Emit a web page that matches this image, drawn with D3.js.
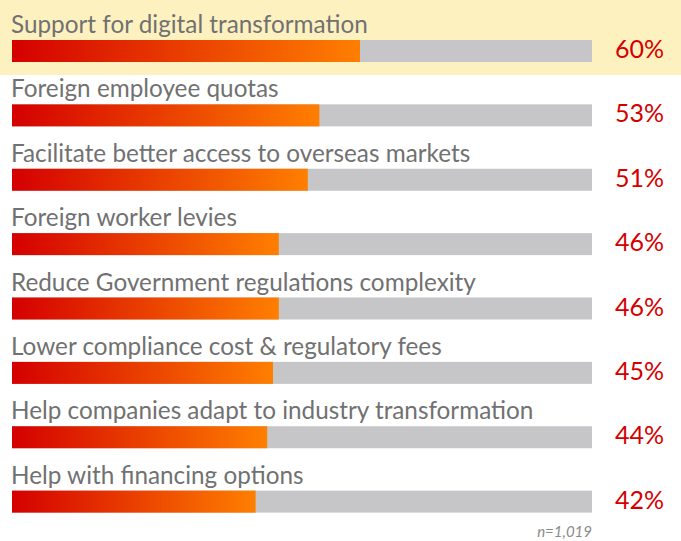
<!DOCTYPE html>
<html><head><meta charset="utf-8">
<script src="https://cdn.jsdelivr.net/npm/d3@7"></script>
<style>body{margin:0;background:#fff;}svg{display:block;}</style>
</head><body>
<script>
const categories = [
  "Support for digital transformation",
  "Foreign employee quotas",
  "Facilitate better access to overseas markets",
  "Foreign worker levies",
  "Reduce Government regulations complexity",
  "Lower compliance cost & regulatory fees",
  "Help companies adapt to industry transformation",
  "Help with financing options"
];
const values = [60, 53, 51, 46, 46, 45, 44, 42];
const valueLabels = ["60%", "53%", "51%", "46%", "46%", "45%", "44%", "42%"];
const highlighted = ["Support for digital transformation"];
const note = "n=1,019";

const W = 681, H = 541;
const svg = d3.select("body").append("svg").attr("width", W).attr("height", H);

const defs = svg.append("defs");
const grad = defs.append("linearGradient").attr("id", "g").attr("x1", "0%").attr("x2", "100%");
grad.append("stop").attr("offset", "0%").attr("stop-color", "#d40000");
grad.append("stop").attr("offset", "100%").attr("stop-color", "#ff7f00");

const x = d3.scaleLinear().domain([0, 100]).range([12, 592]);
const y = d3.scaleBand().domain(categories).range([11, 526]).paddingInner(0).paddingOuter(0);
const barOff = 29, barH = 22;

// highlight band
svg.selectAll("rect.hl").data(highlighted).enter().append("rect")
  .attr("x", 0).attr("y", d => y(d) - 11).attr("width", W).attr("height", 75)
  .attr("fill", "#fef1c0");

const rows = svg.selectAll("g.row").data(categories).enter().append("g")
  .attr("transform", d => `translate(0,${y(d)})`);

rows.append("text").attr("x", 11).attr("y", barOff - 7)
  .attr("font-family", "Lato, sans-serif").attr("font-size", 24.3).attr("font-weight", 400)
  .attr("fill", "#717171")
  .text(d => d);

rows.append("rect").attr("x", x(0)).attr("y", barOff).attr("width", x(100) - x(0)).attr("height", barH)
  .attr("fill", "#c6c6c8");

rows.append("rect").attr("x", x(0)).attr("y", barOff)
  .attr("width", (d, i) => x(values[i]) - x(0)).attr("height", barH)
  .attr("fill", "url(#g)");

rows.append("text").attr("x", 664).attr("y", barOff + 18)
  .attr("text-anchor", "end")
  .attr("font-family", "Lato, sans-serif").attr("font-size", 25).attr("font-weight", 400)
  .attr("fill", "#d40000")
  .text((d, i) => valueLabels[i]);

svg.append("text").attr("x", 592).attr("y", 537).attr("text-anchor", "end")
  .attr("font-family", "Lato, sans-serif").attr("font-size", 15).attr("font-style", "italic")
  .attr("font-weight", 400)
  .attr("fill", "#8a8a8a").text(note);
</script>
</body></html>
